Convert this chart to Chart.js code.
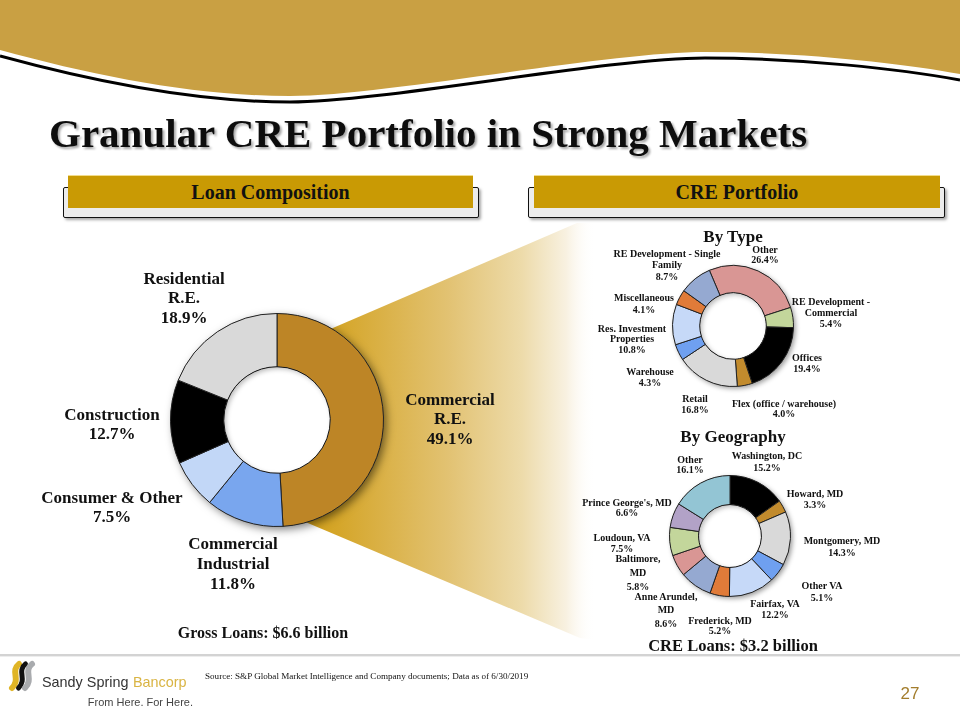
<!DOCTYPE html>
<html>
<head>
<meta charset="utf-8">
<script src="https://cdn.jsdelivr.net/npm/chart.js@4.4.1/dist/chart.umd.min.js"></script>
<style>
  html, body { margin:0; padding:0; background:#fff; }
  body { width:960px; height:720px; position:relative; overflow:hidden; font-family:"Liberation Serif", serif; }
  .frame { position:absolute; border:1.5px solid #111; background:#ececec; border-radius:2px; box-shadow:2px 2px 3px rgba(0,0,0,0.35); box-sizing:border-box; }
  .goldbox { position:absolute; background:#C99A04; color:#111; font:bold 20px/32px "Liberation Serif", serif; text-align:center; border-top:1px solid #f2dc8c; box-sizing:border-box; }
  canvas { position:absolute; }
  svg { position:absolute; left:0; top:0; }
</style>
</head>
<body>
<!-- background decorations -->
<svg id="bg" width="960" height="720" style="z-index:0">
  <defs>
    <linearGradient id="funnel" gradientUnits="userSpaceOnUse" x1="300" y1="0" x2="596" y2="0">
      <stop offset="0" stop-color="#D2A018"/>
      <stop offset="0.13" stop-color="#D5A62A"/>
      <stop offset="0.5" stop-color="#E2C272"/>
      <stop offset="0.75" stop-color="#EDDBAA"/>
      <stop offset="0.9" stop-color="#F8F1E1"/>
      <stop offset="1" stop-color="#FFFFFF" stop-opacity="0"/>
    </linearGradient>
  </defs>
  <path d="M0,0 L960,0 L960,74 C900,63 800,52 705,52 C605,52 385,96 290,96 C195,96 95,76 0,50 Z" fill="#C9A043"/>
  <path d="M0,56 C95,82 195,102 290,102 C385,102 605,58 705,58 C800,58 900,69 960,80" fill="none" stroke="#000" stroke-width="3"/>
  <polygon points="277,352 577,223 596,223 596,640 580,638 277,510" fill="url(#funnel)"/>
  <rect x="0" y="654" width="960" height="2" fill="#D3D3D3"/>
  <rect x="0" y="656" width="960" height="1" fill="#EDEDED"/>
  <!-- logo -->
  <g fill="none" stroke-linecap="round">
    <path d="M19,664 C10,671 21,679 12,688" stroke="#E0B526" stroke-width="6"/>
    <path d="M25.5,664 C16.5,671 27.5,679 18.5,688" stroke="#111" stroke-width="5"/>
    <path d="M32,664 C23,671 34,679 25,688" stroke="#A9ABAE" stroke-width="6"/>
  </g>
</svg>

<div class="frame" style="left:63px;top:187px;width:416px;height:31px;z-index:1"></div>
<div class="goldbox" style="left:68px;top:175px;width:405px;height:33px;z-index:2">Loan Composition</div>
<div class="frame" style="left:528px;top:187px;width:417px;height:31px;z-index:1"></div>
<div class="goldbox" style="left:534px;top:175px;width:406px;height:33px;z-index:2">CRE Portfolio</div>

<canvas id="loanChart" width="240" height="240" style="left:156.5px;top:300px;z-index:3"></canvas>
<canvas id="typeChart" width="150" height="150" style="left:657.5px;top:251px;z-index:3"></canvas>
<canvas id="geoChart" width="150" height="150" style="left:654.5px;top:460.5px;z-index:3"></canvas>

<svg id="txt" width="960" height="720" style="z-index:5;pointer-events:none"></svg>

<script>
// ---------------- DATA ----------------
const loanCategories = [["Commercial","R.E."],["Commercial","Industrial"],["Consumer & Other"],["Construction"],["Residential","R.E."]];
const loanValues = [49.1, 11.8, 7.5, 12.7, 18.9];

const typeCategories = [["Other"],["RE Development -","Commercial"],["Offices"],["Flex (office / warehouse)"],["Retail"],["Warehouse"],["Res. Investment","Properties"],["Miscellaneous"],["RE Development - Single","Family"]];
const typeValues = [26.4, 5.4, 19.4, 4.0, 16.8, 4.3, 10.8, 4.1, 8.7];

const geoCategories = [["Washington, DC"],["Howard, MD"],["Montgomery, MD"],["Other VA"],["Fairfax, VA"],["Frederick, MD"],["Anne Arundel,","MD"],["Baltimore,","MD"],["Loudoun, VA"],["Prince George's, MD"],["Other"]];
const geoValues = [15.2, 3.3, 14.3, 5.1, 12.2, 5.2, 8.6, 5.8, 7.5, 6.6, 16.1];

const grossLoans = "Gross Loans: $6.6 billion";
const creLoans = "CRE Loans: $3.2 billion";

// ---------------- STYLE / LAYOUT ----------------
const loanColors = ["#BD8526","#79A6EE","#C2D7F7","#000000","#D9D9D9"];
const typeColors = ["#D99694","#C3D69B","#000000","#C28B2D","#D9D9D9","#6FA0F0","#C6D9F8","#E07B39","#95A9D1"];
const geoColors  = ["#000000","#C28B2D","#D9D9D9","#6FA0F0","#C6D9F8","#E07B39","#95A9D1","#D99694","#C3D69B","#B2A2C7","#93C5D4"];

const loanLabelPos = [[450,399,19.5],[233,543,20],[112,497,19.5],[112,414,19.5],[184,278,19.5]];
const typeLabelPos = [[765,249,10.5],[831,301,11],[807,357,11],[784,403,10.5],[695,398,11],[650,371,11],[632,328,10.5],[644,297,12],[667,253,11.5]];
const geoLabelPos  = [[767,455,12],[815,493,11],[842,540,12],[822,585,12],[775,603,11],[720,620,10.5],[666,596,13.5],[638,558,14],[622,537,11],[627,502,10.5],[690,459,10.5]];

// ---------------- PLUGINS ----------------
const ringShadow = {
  id:'ringShadow',
  beforeDatasetsDraw(chart, args, opts){
    const arc = chart.getDatasetMeta(0).data[0];
    if(!arc) return;
    const {x, y, outerRadius, innerRadius} = arc.getProps(['x','y','outerRadius','innerRadius'], true);
    const ctx = chart.ctx;
    ctx.save();
    ctx.shadowColor = opts.color || 'rgba(0,0,0,0.45)';
    ctx.shadowBlur = opts.blur || 7;
    ctx.shadowOffsetX = opts.dx || 3;
    ctx.shadowOffsetY = opts.dy || 3;
    ctx.beginPath();
    ctx.arc(x, y, outerRadius, 0, Math.PI*2);
    ctx.arc(x, y, innerRadius, 0, Math.PI*2, true);
    ctx.fillStyle = '#777';
    ctx.fill();
    ctx.restore();
    ctx.save();
    ctx.beginPath();
    ctx.arc(x, y, innerRadius + 1, 0, Math.PI*2);
    ctx.fillStyle = '#fff';
    ctx.fill();
    ctx.restore();
  },
  afterDatasetsDraw(chart, args, opts){
    const arc = chart.getDatasetMeta(0).data[0];
    if(!arc) return;
    const {x, y, innerRadius} = arc.getProps(['x','y','innerRadius'], true);
    const ctx = chart.ctx;
    ctx.save();
    ctx.beginPath();
    ctx.arc(x, y, innerRadius, 0, Math.PI*2);
    ctx.clip();
    ctx.shadowColor = 'rgba(0,0,0,0.28)';
    ctx.shadowBlur = 5;
    ctx.shadowOffsetX = 2;
    ctx.shadowOffsetY = 2;
    ctx.beginPath();
    ctx.arc(x, y, innerRadius + 30, 0, Math.PI*2);
    ctx.arc(x, y, innerRadius, 0, Math.PI*2, true);
    ctx.fillStyle = '#000';
    ctx.fill();
    ctx.restore();
  }
};

function makeDoughnut(id, labels, values, colors, rotation, cutout, pad, bw, shadowOpts){
  return new Chart(document.getElementById(id), {
    type:'doughnut',
    data:{ labels, datasets:[{ data:values, backgroundColor:colors, borderColor:'#222', borderWidth:bw }] },
    options:{
      responsive:false, animation:false, rotation, cutout,
      layout:{ padding:pad },
      plugins:{ legend:{display:false}, tooltip:{enabled:false}, ringShadow:shadowOpts }
    },
    plugins:[ringShadow]
  });
}

makeDoughnut('loanChart', loanCategories, loanValues, loanColors, 0, '50%', 13, 1, {blur:8, dx:3, dy:3, color:'rgba(0,0,0,0.5)'});
makeDoughnut('typeChart', typeCategories, typeValues, typeColors, -23, '55%', 14, 1, {blur:5, dx:2, dy:2, color:'rgba(0,0,0,0.4)'});
makeDoughnut('geoChart', geoCategories, geoValues, geoColors, 0, '52%', 14, 1, {blur:5, dx:2, dy:2, color:'rgba(0,0,0,0.4)'});

// ---------------- TEXT ----------------
const NS = 'http://www.w3.org/2000/svg';
const svg = document.getElementById('txt');
function txt(x, y, str, size, opts={}){
  const t = document.createElementNS(NS, 'text');
  t.setAttribute('x', x); t.setAttribute('y', y);
  t.setAttribute('font-family', opts.family || 'Liberation Serif, serif');
  t.setAttribute('font-size', size);
  t.setAttribute('font-weight', opts.weight || 'bold');
  t.setAttribute('fill', opts.fill || '#111');
  t.setAttribute('text-anchor', opts.anchor || 'middle');
  if(opts.baseline) t.setAttribute('dominant-baseline', opts.baseline);
  if(opts.filter) t.setAttribute('filter', opts.filter);
  t.textContent = str;
  svg.appendChild(t);
  return t;
}
function labels(cats, vals, pos, size){
  cats.forEach((c, i) => {
    const lines = c.concat([vals[i].toFixed(1) + '%']);
    const [x, y, lh] = pos[i];
    lines.forEach((ln, j) => txt(x, y + j*lh, ln, size, {baseline:'central'}));
  });
}
labels(loanCategories, loanValues, loanLabelPos, 17);
labels(typeCategories, typeValues, typeLabelPos, 10);
labels(geoCategories, geoValues, geoLabelPos, 10);

// title with shadow
const defs = document.createElementNS(NS, 'defs');
defs.innerHTML = '<filter id="ts" x="-5%" y="-20%" width="110%" height="150%"><feDropShadow dx="2" dy="2" stdDeviation="1.2" flood-color="#000" flood-opacity="0.35"/></filter>';
svg.appendChild(defs);
txt(49, 147, 'Granular CRE Portfolio in Strong Markets', 41, {anchor:'start', filter:'url(#ts)'});

txt(733, 236, 'By Type', 17, {baseline:'central'});
txt(733, 436, 'By Geography', 17, {baseline:'central'});
txt(263, 632, grossLoans, 16, {baseline:'central'});
txt(733, 645, creLoans, 16.5, {baseline:'central'});

txt(205, 676, 'Source: S&P Global Market Intelligence and Company documents; Data as of 6/30/2019', 9.1, {anchor:'start', weight:'normal', baseline:'central'});

// footer brand
txt(42, 687, 'Sandy Spring', 14.4, {anchor:'start', weight:'normal', family:'Liberation Sans, Arial, sans-serif', fill:'#333'});
txt(133, 687, 'Bancorp', 14.4, {anchor:'start', weight:'normal', family:'Liberation Sans, Arial, sans-serif', fill:'#D9B443'});
txt(193, 706, 'From Here. For Here.', 11, {anchor:'end', weight:'normal', family:'Liberation Sans, Arial, sans-serif', fill:'#444'});
txt(910, 699, '27', 17, {weight:'normal', family:'Liberation Sans Narrow, Liberation Sans, Arial, sans-serif', fill:'#A37D2C'});
</script>
</body>
</html>
